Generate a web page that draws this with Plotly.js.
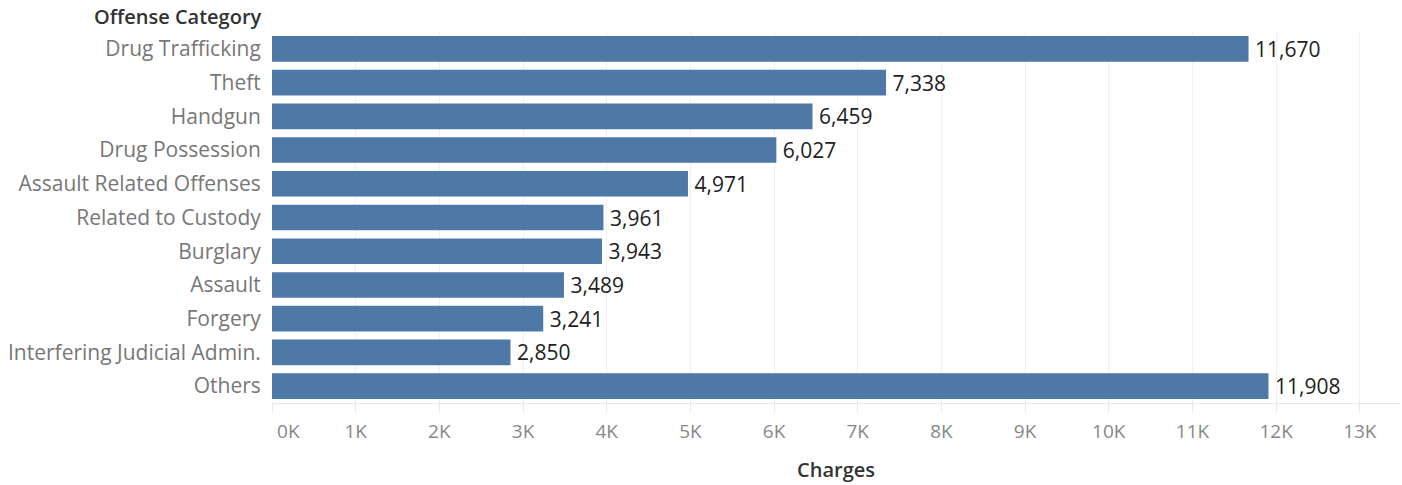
<!DOCTYPE html>
<html>
<head>
<meta charset="utf-8">
<script src="https://cdn.plot.ly/plotly-3.0.1.min.js"></script>
<style>html,body{margin:0;padding:0;background:#fff;}#chart{width:1402px;height:485px;}</style>
</head>
<body>
<div id="chart"></div>
<script>
const categories = ["Drug Trafficking","Theft","Handgun","Drug Possession","Assault Related Offenses","Related to Custody","Burglary","Assault","Forgery","Interfering Judicial Admin.","Others"];
const charges = [11670,7338,6459,6027,4971,3961,3943,3489,3241,2850,11908];
const tickValues = [0,1000,2000,3000,4000,5000,6000,7000,8000,9000,10000,11000,12000,13000];
const tickLabels = ["\u2007\u2007\u20070K","1K","2K","3K","4K","5K","6K","7K","8K","9K","10K","11K","12K","13K"];

const fontFam = "Open Sans, sans-serif";
const trace = {
  type: "bar",
  orientation: "h",
  y: categories,
  x: charges,
  marker: {color: "#4e79a7"},
  text: charges.map(v => "\u2006" + v.toLocaleString("en-US")),
  textposition: "outside",
  constraintext: "none",
  textfont: {family: fontFam, size: 21, color: "#222"},
  cliponaxis: false,
  hoverinfo: "x+y"
};
const layout = {
  width: 1402, height: 485,
  margin: {l: 272, r: 2, t: 32, b: 82},
  paper_bgcolor: "#fff", plot_bgcolor: "#fff",
  bargap: 0.24,
  showlegend: false,
  font: {family: fontFam},
  xaxis: {
    range: [0, 13480],
    tickvals: tickValues,
    ticktext: tickLabels,
    showgrid: true, gridcolor: "#f0f0f0", gridwidth: 1,
    zeroline: false,
    showline: true, linecolor: "#e8e8e8", linewidth: 1,
    ticks: "outside", ticklen: 8, tickcolor: "#e8e8e8",
    ticklabelstandoff: 3,
    tickfont: {family: fontFam, size: 19, color: "#888"},
    title: {text: "Charges", font: {family: fontFam, size: 20, color: "#333", weight: 600}, standoff: 20},
    fixedrange: true
  },
  yaxis: {
    categoryorder: "array", categoryarray: categories,
    autorange: "reversed",
    showgrid: false, zeroline: false, showline: false,
    ticks: "outside", ticklen: 6, tickcolor: "rgba(0,0,0,0)",
    tickfont: {family: fontFam, size: 21, color: "#777"},
    fixedrange: true
  },
  annotations: [{
    text: "Offense Category",
    xref: "paper", yref: "paper",
    x: 0, y: 1, xanchor: "right", yanchor: "bottom",
    xshift: -8, yshift: 0,
    showarrow: false,
    font: {family: fontFam, size: 20, color: "#333", weight: 600}
  }]
};
Plotly.newPlot("chart", [trace], layout, {displayModeBar: false, staticPlot: true});
</script>
</body>
</html>
